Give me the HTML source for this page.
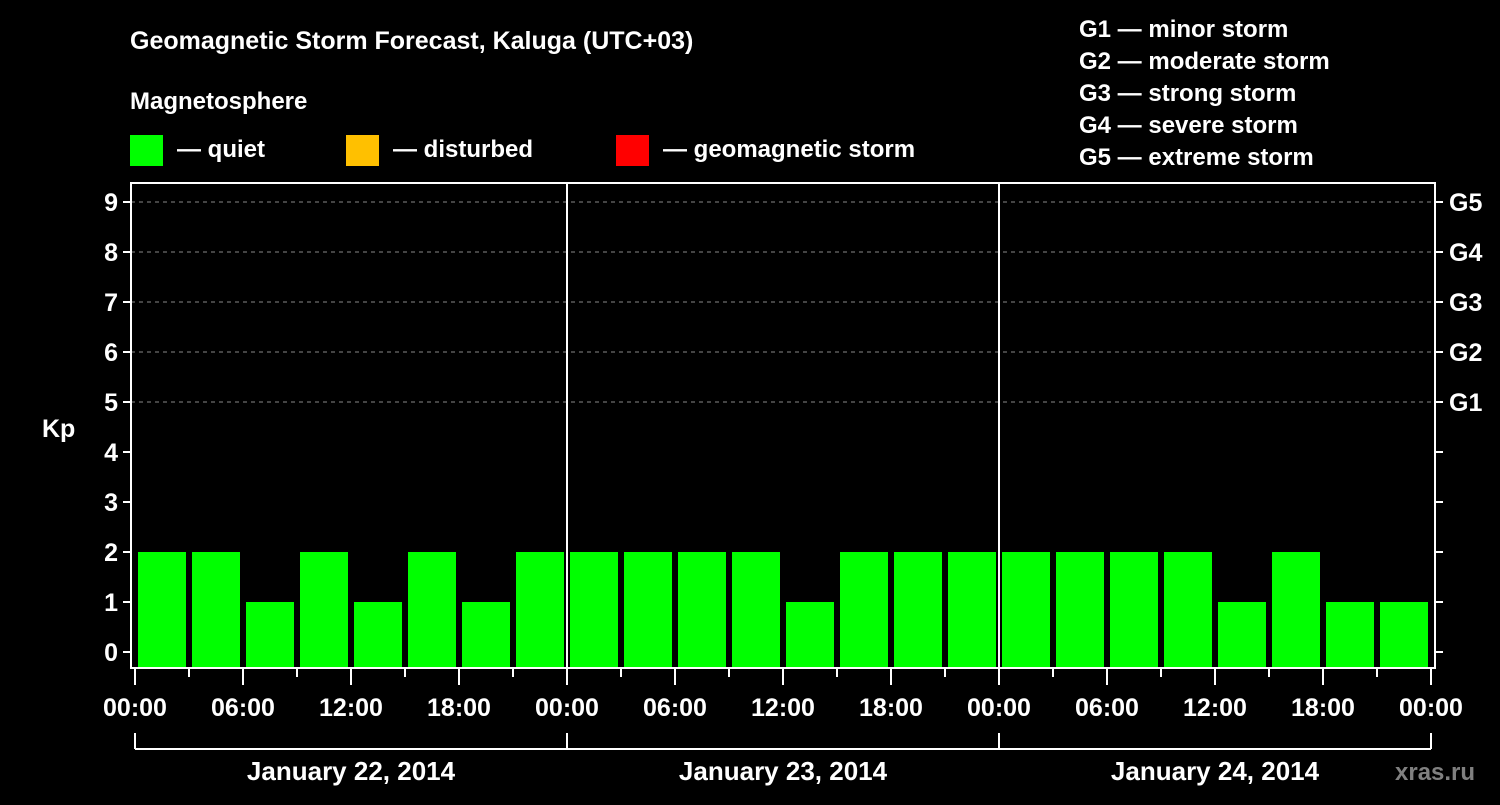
<!DOCTYPE html>
<html><head><meta charset="utf-8"><style>
body{margin:0;background:#000;width:1500px;height:800px;overflow:hidden}
svg text{font-family:"Liberation Sans",sans-serif;font-weight:bold;fill:#fff}
</style></head><body>
<svg id="c" width="1500" height="800">
<text x="130" y="49" font-size="25">Geomagnetic Storm Forecast, Kaluga (UTC+03)</text>
<text x="130" y="109" font-size="24">Magnetosphere</text>
<g><rect x="130" y="135" width="33" height="31" fill="#00ff00"/><text x="177" y="157" font-size="24">— quiet</text></g>
<g><rect x="346" y="135" width="33" height="31" fill="#ffc000"/><text x="393" y="157" font-size="24">— disturbed</text></g>
<g><rect x="616" y="135" width="33" height="31" fill="#ff0000"/><text x="663" y="157" font-size="24">— geomagnetic storm</text></g>
<g font-size="24">
<text x="1079" y="37">G1 — minor storm</text><text x="1079" y="69">G2 — moderate storm</text><text x="1079" y="101">G3 — strong storm</text><text x="1079" y="133">G4 — severe storm</text><text x="1079" y="165">G5 — extreme storm</text></g>
<text x="42" y="437" font-size="25">Kp</text>
<text x="1395" y="780" font-size="24" fill="#808080" style="fill:#808080">xras.ru</text>
<g id="grid"></g><g id="bars"></g><g id="axes"></g>
</svg>
<script>
const dayLabels=["January 22, 2014","January 23, 2014","January 24, 2014"];
const hourLabels=["00:00","06:00","12:00","18:00"];
const yTicks=[0,1,2,3,4,5,6,7,8,9];
const gLabels=["G1","G2","G3","G4","G5"];
const kpValues=[2,2,1,2,1,2,1,2, 2,2,2,2,1,2,2,2, 2,2,2,2,1,2,1,1];
const NS="http://www.w3.org/2000/svg";
const X0=135,DAYW=432,PL=131,PR=1435,PT=183,PB=668;
const xh=h=>X0+h*DAYW/24;
const y=v=>652-v*50;
function mk(tag,attrs,parent,txt){const e=document.createElementNS(NS,tag);for(const k in attrs)e.setAttribute(k,attrs[k]);if(txt!==undefined)e.textContent=txt;document.getElementById(parent).appendChild(e);return e;}
yTicks.forEach(v=>{
 if(v>=5){const l=mk('line',{x1:PL,x2:PR,y1:y(v),y2:y(v),stroke:'#888','stroke-dasharray':'4,4'},'grid');
  
  }
 const t=mk('line',{x1:PL-8,x2:PL,y1:y(v),y2:y(v),stroke:'#fff','stroke-width':2},'axes');
 const t2=mk('line',{x1:PR,x2:PR+8,y1:y(v),y2:y(v),stroke:'#fff','stroke-width':2},'axes');
 const lb=mk('text',{x:PL-13,y:y(v)+9,'font-size':25,'text-anchor':'end'},'axes',String(v));
 
 
});
gLabels.forEach((g,i)=>{
 const t=mk('text',{x:1449,y:y(5+i)+9,'font-size':25},'axes',g);
 
 
});
kpValues.forEach((v,i)=>{
 const x1=xh(i*3)+3,x2=xh(i*3+3)-3;
 const r=mk('rect',{x:x1,y:y(v),width:x2-x1,height:PB-y(v),fill:v>=5?'#ff0000':(v>=4?'#ffc000':'#00ff00')},'bars');
 
 
});
mk('rect',{x:PL,y:PT,width:PR-PL,height:PB-PT,fill:'none',stroke:'#fff','stroke-width':2},'axes');
for(let d=1;d<dayLabels.length;d++){mk('line',{x1:xh(24*d),x2:xh(24*d),y1:PT,y2:PB,stroke:'#fff','stroke-width':2},'axes');}
for(let h=0;h<=24*dayLabels.length;h+=3){
 const major=h%6===0;
 mk('line',{x1:xh(h),x2:xh(h),y1:PB,y2:major?685:677,stroke:'#fff','stroke-width':2},'axes');
 if(major){const t=mk('text',{x:xh(h),y:716,'font-size':25,'text-anchor':'middle'},'axes',hourLabels[(h/6)%4]);
  
  }
}
mk('line',{x1:X0,x2:xh(24*dayLabels.length),y1:749,y2:749,stroke:'#fff','stroke-width':2},'axes');
for(let d=0;d<=dayLabels.length;d++)mk('line',{x1:xh(24*d),x2:xh(24*d),y1:733,y2:749,stroke:'#fff','stroke-width':2},'axes');
dayLabels.forEach((s,d)=>{
 const t=mk('text',{x:xh(24*d+12),y:780,'font-size':26,'text-anchor':'middle'},'axes',s);
 
 
});
</script>
</body></html>
